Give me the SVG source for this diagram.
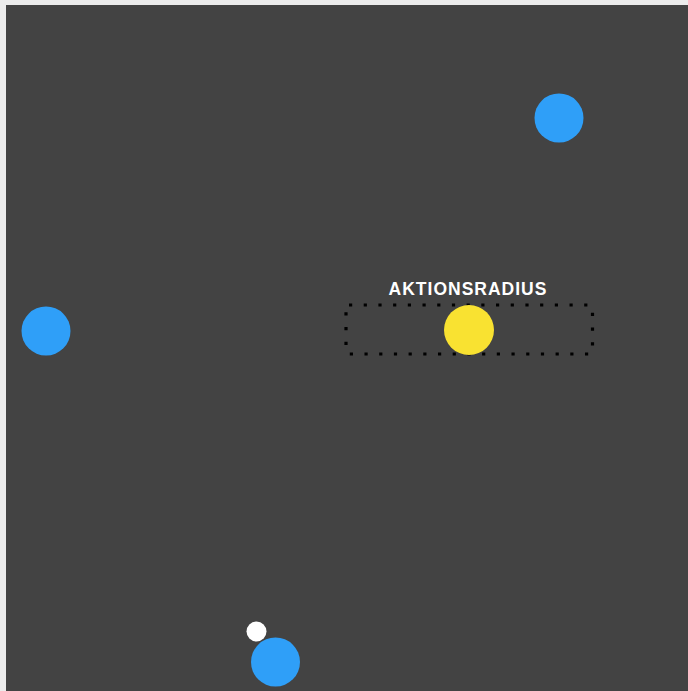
<svg xmlns="http://www.w3.org/2000/svg" width="688" height="691" viewBox="0 0 688 691">
<style>
.blue{fill:#2f9ff8}
.lbl{font-family:"Liberation Sans",Arial,sans-serif;font-weight:bold;font-size:17.5px;fill:#ffffff;letter-spacing:1px}
</style>
<rect x="0" y="0" width="688" height="691" fill="#ececec"/>
<rect x="6" y="5" width="682" height="686" fill="#434343"/>
<g id="radius">
<rect x="346" y="305" width="246.5" height="49" rx="3" fill="none" stroke="#000" stroke-width="3.2" stroke-dasharray="3.2 11.5"/>
<text class="lbl" x="468" y="294.5" text-anchor="middle">AKTIONSRADIUS</text>
</g>
<g id="yellow"><circle cx="469" cy="330" r="25" fill="#f9e231"/></g>
<g id="blue-top"><circle class="blue" cx="559" cy="118" r="24.5"/></g>
<g id="blue-left"><circle class="blue" cx="46" cy="331" r="24.5"/></g>
<g id="blue-bottom"><circle class="blue" cx="275.5" cy="662" r="24.5"/></g>
<g id="white"><circle cx="256.5" cy="631.5" r="10" fill="#ffffff"/></g>
<g id="connectors"></g>
</svg>
